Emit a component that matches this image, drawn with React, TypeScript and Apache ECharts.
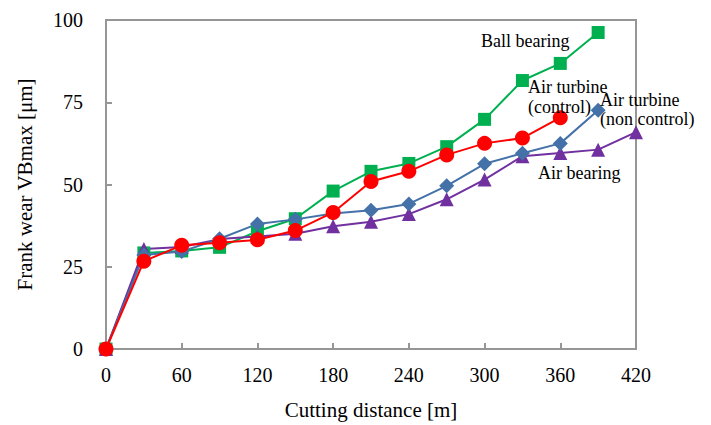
import React, { useEffect, useRef } from "react";
import * as echarts from "echarts";

const ballX = [0, 30, 60, 90, 120, 150, 180, 210, 240, 270, 300, 330, 360, 390];
const ballBearing = [0, 29.2, 29.8, 30.9, 35.8, 39.6, 48, 54, 56.4, 61.5, 69.8, 81.6, 86.8, 96.2];

const controlX = [0, 30, 60, 90, 120, 150, 180, 210, 240, 270, 300, 330, 360];
const airTurbineControl = [0, 26.7, 31.5, 32.3, 33.2, 36, 41.5, 50.9, 54, 59, 62.5, 64.1, 70.3];

const nonControlX = [0, 30, 60, 90, 120, 150, 180, 210, 240, 270, 300, 330, 360, 390];
const airTurbineNonControl = [0, 28.6, 29.6, 33.5, 38, 39.4, 41.2, 42.2, 44.1, 49.6, 56.3, 59.5, 62.5, 72.6];

const airX = [0, 30, 60, 90, 120, 150, 180, 210, 240, 270, 300, 330, 360, 390, 420];
const airBearing = [0, 30.4, 31, 33.4, 34.2, 35, 37.3, 38.7, 41, 45.5, 51.5, 58.6, 59.6, 60.6, 65.9];

const xTicks = [0, 60, 120, 180, 240, 300, 360, 420];
const yTicks = [0, 25, 50, 75, 100];

const FONT = "'Times New Roman', 'Liberation Serif', 'DejaVu Serif', serif";

const pairs = (xs: number[], ys: number[]) => xs.map((x, i) => [x, ys[i]]);

export default function App() {
  const ref = useRef<HTMLDivElement>(null);
  useEffect(() => {
    if (!ref.current) return;
    const chart = echarts.init(ref.current, null, { renderer: "svg" });
    const axisColor = "#969696";
    const labelText = (text: string, x: number, y: number, lh = 18) => ({
      type: "text",
      left: x,
      top: y,
      style: { text, fontFamily: FONT, fontSize: 18, lineHeight: lh, fill: "#000" },
      z: 100,
    });
    chart.setOption({
      animation: false,
      backgroundColor: "#fff",
      textStyle: { fontFamily: FONT },
      grid: {
        left: 106,
        right: 75,
        top: 20,
        bottom: 69,
        show: true,
        borderColor: axisColor,
        borderWidth: 2,
        backgroundColor: "transparent",
      },
      xAxis: {
        type: "value",
        min: xTicks[0],
        max: xTicks[xTicks.length - 1],
        interval: 60,
        name: "Cutting distance [m]",
        nameLocation: "middle",
        nameGap: 50,
        nameTextStyle: { fontFamily: FONT, fontSize: 21, color: "#000" },
        axisLine: { show: true, lineStyle: { color: axisColor, width: 2 } },
        axisTick: { show: true, inside: true, length: 6, lineStyle: { color: axisColor, width: 2 } },
        axisLabel: { fontFamily: FONT, fontSize: 20, color: "#000", margin: 16 },
        splitLine: { show: false },
      },
      yAxis: {
        type: "value",
        min: yTicks[0],
        max: yTicks[yTicks.length - 1],
        interval: 25,
        name: "Frank wear VBmax [μm]",
        nameLocation: "middle",
        nameGap: 71,
        nameRotate: 90,
        nameTextStyle: { fontFamily: FONT, fontSize: 21, color: "#000" },
        axisLine: { show: true, lineStyle: { color: axisColor, width: 2 } },
        axisTick: { show: true, inside: true, length: 6, lineStyle: { color: axisColor, width: 2 } },
        axisLabel: { fontFamily: FONT, fontSize: 20, color: "#000", margin: 23 },
        splitLine: { show: false },
      },
      series: [
        {
          name: "Ball bearing",
          type: "line",
          data: pairs(ballX, ballBearing),
          symbol: "rect",
          symbolSize: 13,
          itemStyle: { color: "#00b050" },
          lineStyle: { color: "#00b050", width: 2 },
        },
        {
          name: "Air bearing",
          type: "line",
          data: pairs(airX, airBearing),
          symbol: "triangle",
          symbolSize: 14,
          itemStyle: { color: "#7030a0" },
          lineStyle: { color: "#7030a0", width: 2 },
        },
        {
          name: "Air turbine (non control)",
          type: "line",
          data: pairs(nonControlX, airTurbineNonControl),
          symbol: "diamond",
          symbolSize: 15,
          itemStyle: { color: "#4471a8" },
          lineStyle: { color: "#4471a8", width: 2 },
        },
        {
          name: "Air turbine (control)",
          type: "line",
          data: pairs(controlX, airTurbineControl),
          symbol: "circle",
          symbolSize: 15,
          itemStyle: { color: "#ff0000" },
          lineStyle: { color: "#ff0000", width: 2 },
        },
      ],
      graphic: [
        labelText("Ball bearing", 481, 32),
        labelText("Air turbine\n(control)", 528, 77, 20),
        labelText("Air turbine\n(non control)", 600, 90, 19),
        labelText("Air bearing", 538, 164),
      ],
    });
    return () => chart.dispose();
  }, []);
  return (
    <div
      ref={ref}
      style={{ position: "absolute", left: 0, top: 0, width: 711, height: 425 }}
    />
  );
}
